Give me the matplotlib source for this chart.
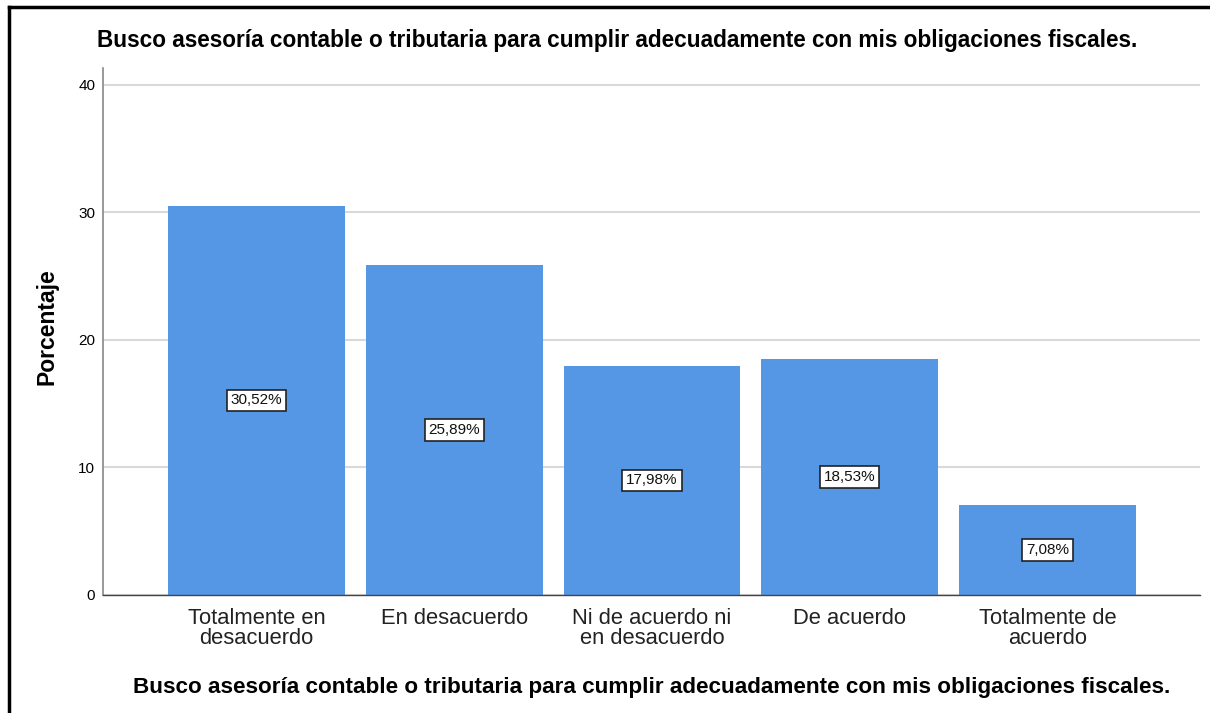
import matplotlib
matplotlib.use("Agg")
import matplotlib.pyplot as plt
from matplotlib.lines import Line2D

categories = ["Totalmente en\ndesacuerdo", "En desacuerdo", "Ni de acuerdo ni\nen desacuerdo",
              "De acuerdo", "Totalmente de\nacuerdo"]
values = [30.52, 25.89, 17.98, 18.53, 7.08]
yticks = [0, 10, 20, 30, 40]
title = "Busco asesoría contable o tributaria para cumplir adecuadamente con mis obligaciones fiscales."

plt.rcParams['font.family'] = ['Liberation Sans', 'DejaVu Sans']

fig = plt.figure(figsize=(12.1, 7.13), dpi=100)
W, H = 1210, 713
ax = fig.add_axes([103 / W, 1 - 595 / H, (1200 - 103) / W, (595 - 68) / H])

x = list(range(len(values)))
ax.bar(x, values, width=0.894, color="#5596E5", zorder=2)
ax.set_xlim(-0.775, 4.77)
ax.set_ylim(0, 41.33)

ax.set_yticks(yticks)
ax.set_yticklabels([str(t) for t in yticks], fontsize=11)
ax.grid(axis="y", color="#D9D9D9", linewidth=1.5, zorder=0)
ax.tick_params(axis="y", length=0, pad=5.5)
ax.tick_params(axis="x", length=0, pad=9)
ax.set_xticks(x)
ax.set_xticklabels(categories, fontsize=15.8, color="#222222", linespacing=0.98)

for s in ["top", "right"]:
    ax.spines[s].set_visible(False)
ax.spines["left"].set_color("#888888")
ax.spines["left"].set_linewidth(1.2)
ax.spines["bottom"].set_color("#444444")
ax.spines["bottom"].set_linewidth(1.0)

for xi, v in zip(x, values):
    ax.text(xi, v / 2, f"{v:.2f}%".replace(".", ","), ha="center", va="center", fontsize=11,
            color="#111111",
            bbox=dict(boxstyle="square,pad=0.25", facecolor="white", edgecolor="#222222", linewidth=1.2),
            zorder=4)

ax.set_ylabel("Porcentaje", fontsize=16.5, fontweight="bold")
ax.yaxis.set_label_coords((58 - 103) / (1200 - 103), 0.51)
fig.text(617 / W, 1 - 40 / H, title, ha="center", va="center", fontsize=16.3, fontweight="bold")
fig.text(652 / W, 1 - 687 / H, title, ha="center", va="center", fontsize=16.2, fontweight="bold")

# outer frame (left and top edges visible)
fig.add_artist(Line2D([9 / W, 9 / W], [0, 1 - 7 / H], color="black", linewidth=2.5, transform=fig.transFigure))
fig.add_artist(Line2D([9 / W, 1], [1 - 7 / H, 1 - 7 / H], color="black", linewidth=2.5, transform=fig.transFigure))

fig.savefig("out.png", dpi=100)
